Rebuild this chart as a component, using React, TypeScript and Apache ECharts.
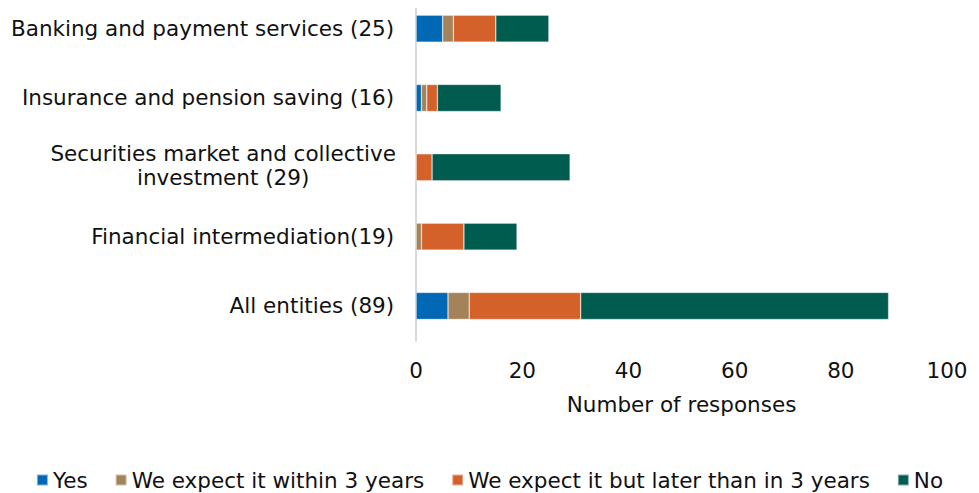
import React, { useEffect, useRef } from "react";
import * as echarts from "echarts";

const categories = [
  "All entities (89)",
  "Financial intermediation(19)",
  "Securities market and collective\ninvestment (29)",
  "Insurance and pension saving (16)",
  "Banking and payment services (25)",
];
const seriesNames = [
  "Yes",
  "We expect it within 3 years",
  "We expect it but later than in 3 years",
  "No",
];
const yesValues = [6, 0, 0, 1, 5];
const within3Values = [4, 1, 0, 1, 2];
const laterValues = [21, 8, 3, 2, 8];
const noValues = [58, 10, 26, 12, 10];
const xTicks = [0, 20, 40, 60, 80, 100];

const colors = ["#0068B4", "#A5835A", "#D4602A", "#005C4E"];
const FONT = "DejaVu Sans";
const FS = 21.5;
const TXT = "#111";

export default function App() {
  const ref = useRef<HTMLDivElement>(null);
  useEffect(() => {
    if (!ref.current) return;
    const chart = echarts.init(ref.current, null, { renderer: "svg" });
    const data = [yesValues, within3Values, laterValues, noValues];
    chart.setOption({
      animation: false,
      textStyle: { fontFamily: FONT },
      grid: { left: 408, right: 24, top: 0, bottom: 152.4, containLabel: false },
      legend: {
        top: 470,
        left: "center",
        itemWidth: 11,
        itemHeight: 11,
        itemGap: 27,
        icon: "rect",
        textStyle: { fontFamily: FONT, fontSize: FS, color: TXT },
        data: seriesNames,
      },
      xAxis: {
        type: "value",
        min: xTicks[0],
        max: xTicks[xTicks.length - 1],
        interval: 20,
        name: "Number of responses",
        nameLocation: "middle",
        nameGap: 64,
        nameTextStyle: { fontFamily: FONT, fontSize: FS, color: TXT, verticalAlign: "middle" },
        axisLine: { show: false },
        axisTick: { show: false },
        splitLine: { show: false },
        axisLabel: { fontFamily: FONT, fontSize: FS, color: TXT, margin: 19 },
      },
      yAxis: {
        type: "category",
        data: categories,
        axisLine: { show: true, lineStyle: { color: "#D9D9D9", width: 2 } },
        axisTick: { show: false },
        axisLabel: {
          fontFamily: FONT,
          fontSize: FS,
          color: TXT,
          margin: 22,
          lineHeight: 24,
          formatter: (v: string) => {
            if (v.indexOf("\n") >= 0) {
              return v
                .split("\n")
                .map((l) => "{c|" + l + "}")
                .join("\n");
            }
            return v;
          },
          rich: {
            c: { width: 342, align: "center", fontFamily: FONT, fontSize: FS, color: TXT, lineHeight: 24, padding: [0, 0, 3, 0] },
          },
        },
      },
      series: seriesNames.map((name, i) => ({
        name,
        type: "bar",
        stack: "total",
        barWidth: 27,
        itemStyle: {
          color: colors[i],
          borderColor: "rgba(255,255,255,0.5)",
          borderWidth: 0.6,
        },
        data: data[i],
      })),
    });
    return () => chart.dispose();
  }, []);
  return <div ref={ref} style={{ width: 963, height: 499, marginTop: -14 }} />;
}
